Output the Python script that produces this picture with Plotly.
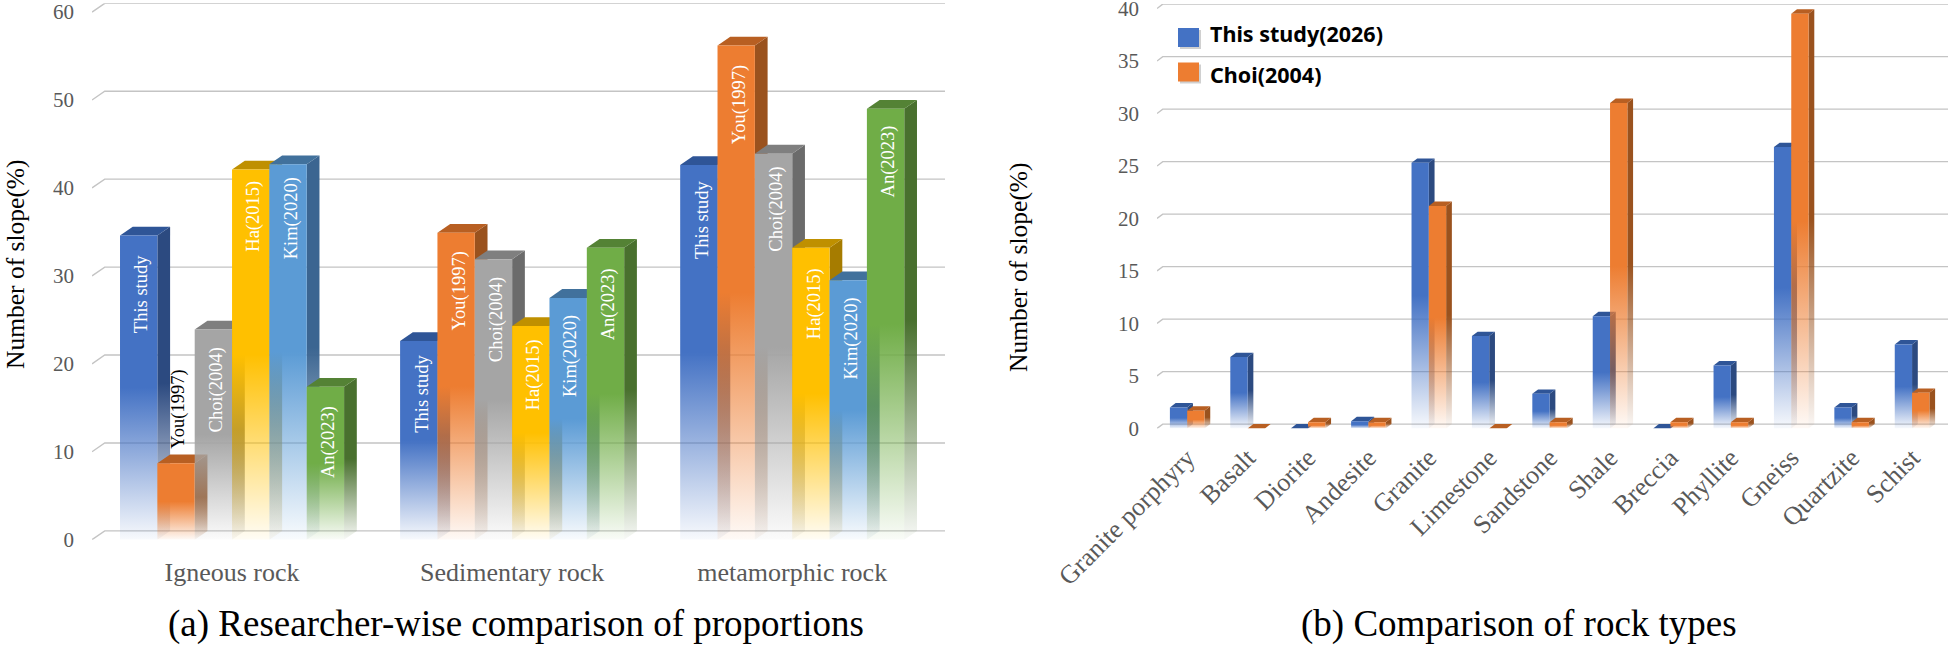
import plotly.graph_objects as go

# ---- Panel (a): share of slopes by researcher and rock group ----
rock_groups = ["Igneous rock", "Sedimentary rock", "metamorphic rock"]
researchers = ["This study", "You(1997)", "Choi(2004)", "Ha(2015)", "Kim(2020)", "An(2023)"]
this_study = [34.6, 22.6, 42.6]
you_1997 = [8.7, 34.9, 56.2]
choi_2004 = [23.9, 31.9, 43.9]
ha_2015 = [42.1, 24.3, 33.2]
kim_2020 = [42.7, 27.5, 29.5]
an_2023 = [17.4, 33.2, 49.0]

# ---- Panel (b): slopes per rock type ----
rock_types = ["Granite porphyry", "Basalt", "Diorite", "Andesite", "Granite", "Limestone",
              "Sandstone", "Shale", "Breccia", "Phyllite", "Gneiss", "Quartzite", "Schist"]
study_2026 = [2.0, 6.8, 0, 0.7, 25.3, 8.8, 3.3, 10.7, 0, 6.0, 26.8, 2.0, 8.0]
choi_types = [1.7, 0, 0.6, 0.6, 21.2, 0, 0.6, 31.0, 0.6, 0.6, 39.5, 0.6, 3.4]

y_ticks_a = [0, 10, 20, 30, 40, 50, 60]
y_ticks_b = [0, 5, 10, 15, 20, 25, 30, 35, 40]

W, H = 1951, 646
SERIF = "Liberation Serif"
TICK_GREY = "#595959"
GRID = "#c4c4c4"

# (front, side, top) colours of each extruded column
BLUE = ("68,114,196", "44,74,128", "47,85,151")
ORANGE = ("237,125,49", "154,82,30", "184,95,34")
GREY = ("165,165,165", "107,107,107", "127,127,127")
GOLD = ("255,192,0", "166,124,0", "191,144,0")
SKY = ("91,155,213", "59,101,145", "65,113,156")
GREEN = ("112,173,71", "73,112,46", "84,130,53")

# Distance in pixels between a column's top edge and its rotated name, per group and researcher
name_gaps = [[18, 12, 14], [12, 17, 18], [16, 16, 11], [9, 11, 18], [11, 15, 15], [17, 18, 15]]


def px_x(px):
    return px / W


def px_y(py):
    return 1 - py / H


def fading(rgb):
    # Solid over the upper half of a column, melting into the page towards the floor
    return [[0, f"rgba({rgb},0.04)"], [0.5, f"rgba({rgb},1)"], [1, f"rgba({rgb},1)"]]


def face(fig, xs, ys, rgb, axes, gradient=True, low=0.0, high=1.0):
    style = dict(fillcolor=f"rgb({rgb})")
    if gradient:
        style = dict(fillgradient=dict(type="vertical", colorscale=fading(rgb), start=low, stop=high))
    fig.add_trace(go.Scatter(x=xs + xs[:1], y=ys + ys[:1], mode="lines", fill="toself",
                             line=dict(width=0), hoverinfo="skip", showlegend=False,
                             xaxis=axes[0], yaxis=axes[1], **style))


def column(fig, x0, x1, value, colors, dx, dy, axes):
    front, side, top = colors
    if value > 0:
        face(fig, [x1, x1 + dx, x1 + dx, x1], [0, dy, value + dy, value], side, axes, low=0, high=value + dy)
    face(fig, [x0, x1, x1 + dx, x0 + dx], [value, value, value + dy, value + dy], top, axes, gradient=False)
    if value > 0:
        face(fig, [x0, x1, x1, x0], [0, 0, value, value], front, axes, low=0, high=value)


def back_grid(fig, ticks, x_left, x_right, dx, dy, axes):
    for t in ticks:
        fig.add_trace(go.Scatter(x=[x_left, x_left + dx, x_right], y=[t, t + dy, t + dy], mode="lines",
                                 line=dict(color=GRID, width=1.4), hoverinfo="skip", showlegend=False,
                                 xaxis=axes[0], yaxis=axes[1]))


def axis_pair(fig, names, anchors, xpx, ypx, xr, yr, xvals, xtext, yvals, xfont, xangle, xoff):
    xa, ya = names
    fig.update_layout({
        xa: dict(domain=[px_x(xpx[0]), px_x(xpx[1])], range=xr, tickmode="array", tickvals=xvals, ticktext=xtext,
                 anchor=anchors[1], automargin=False, ticklabeloverflow="allow",
                 tickfont=dict(family=SERIF, size=xfont, color=TICK_GREY), tickangle=xangle,
                 ticklabelstandoff=xoff, showgrid=False, zeroline=False, showline=False, ticks="", fixedrange=True),
        ya: dict(domain=[px_y(ypx[1]), px_y(ypx[0])], range=yr, tickmode="array", tickvals=yvals,
                 anchor=anchors[0], automargin=False, ticklabeloverflow="allow",
                 tickfont=dict(family=SERIF, size=21, color=TICK_GREY), ticklabelstandoff=17,
                 showgrid=False, zeroline=False, showline=False, ticks="", fixedrange=True),
    })


fig = go.Figure()

# Panel (a) columns
series_a = [this_study, you_1997, choi_2004, ha_2015, kim_2020, an_2023]
colors_a = [BLUE, ORANGE, GREY, GOLD, SKY, GREEN]
bar_a = 0.8 / 6
dx_a, dy_a = 0.0455, 1.0
back_grid(fig, y_ticks_a, -0.5, 2.5 + dx_a, dx_a, dy_a, ("x", "y"))
for g in range(len(rock_groups)):
    for s, values in enumerate(series_a):
        left = g - 0.4 + s * bar_a
        column(fig, left, left + bar_a, values[g], colors_a[s], dx_a, dy_a, ("x", "y"))

# Panel (b) columns
series_b = [study_2026, choi_types]
colors_b = [BLUE, ORANGE]
bar_b = 0.2865
dx_b, dy_b = 0.095, 0.42
back_grid(fig, y_ticks_b, -0.5, 12.5 + dx_b, dx_b, dy_b, ("x2", "y2"))
for g in range(len(rock_types)):
    for s, values in enumerate(series_b):
        left = g - bar_b + s * bar_b
        column(fig, left, left + bar_b, values[g], colors_b[s], dx_b, dy_b, ("x2", "y2"))

axis_pair(fig, ("xaxis", "yaxis"), ("x", "y"), (92, 945), (3.3, 539.7), [-0.5, 2.5 + dx_a], [0, 60 + dy_a],
          list(range(3)), rock_groups, y_ticks_a, 26, 0, 14)
axis_pair(fig, ("xaxis2", "yaxis2"), ("x2", "y2"), (1157, 1948), (4.1, 428.5), [-0.5, 12.5 + dx_b], [0, 40 + dy_b],
          list(range(13)), rock_types, y_ticks_b, 26, -45, 8)

notes = []
# Researcher names written along the columns of panel (a)
for g in range(len(rock_groups)):
    for s, values in enumerate(series_a):
        centre = g - 0.4 + (s + 0.5) * bar_a
        outside = values[g] < 10
        notes.append(dict(x=centre, y=values[g], xref="x", yref="y", text=researchers[s], textangle=-90,
                          showarrow=False, xanchor="center", yanchor="bottom" if outside else "top",
                          yshift=12 if outside else -name_gaps[s][g], xshift=3,
                          font=dict(family=SERIF, size=18.5, color="black" if outside else "white")))

# Axis titles and panel captions
for x, y, text, angle, size in [
    (15, 264, "Number of slope(%)", -90, 25.5),
    (1018, 267, "Number of slope(%)", -90, 25.5),
    (515.5, 624, "(a) Researcher-wise comparison of proportions", 0, 37),
    (1519, 624, "(b) Comparison of rock types", 0, 37),
]:
    notes.append(dict(x=px_x(x), y=px_y(y), xref="paper", yref="paper", text=text, textangle=angle,
                      showarrow=False, xanchor="center", yanchor="middle",
                      font=dict(family=SERIF, size=size, color="black")))

# Legend of panel (b)
shapes = []
for y0, text_y, rgb, label in [(28, 34, BLUE[0], "This study(2026)"), (62.5, 74, ORANGE[0], "Choi(2004)")]:
    shapes.append(dict(type="rect", xref="paper", yref="paper", x0=px_x(1180), x1=px_x(1201), y0=px_y(y0 + 21),
                       y1=px_y(y0 + 2), fillcolor="rgba(120,120,120,0.35)", line_width=0))
    shapes.append(dict(type="rect", xref="paper", yref="paper", x0=px_x(1178), x1=px_x(1199), y0=px_y(y0 + 19),
                       y1=px_y(y0), fillcolor=f"rgb({rgb})", line_width=0))
    notes.append(dict(x=px_x(1208), y=px_y(text_y), xref="paper", yref="paper", text=f"<b>{label}</b>",
                      showarrow=False, xanchor="left", yanchor="middle",
                      font=dict(family="Noto Sans", size=21.5, color="black")))

fig.update_layout(width=W, height=H, autosize=False, margin=dict(l=0, r=0, t=0, b=0),
                  paper_bgcolor="white", plot_bgcolor="white", showlegend=False,
                  annotations=notes, shapes=shapes)

fig.write_html("out.html", config=dict(displayModeBar=False))
